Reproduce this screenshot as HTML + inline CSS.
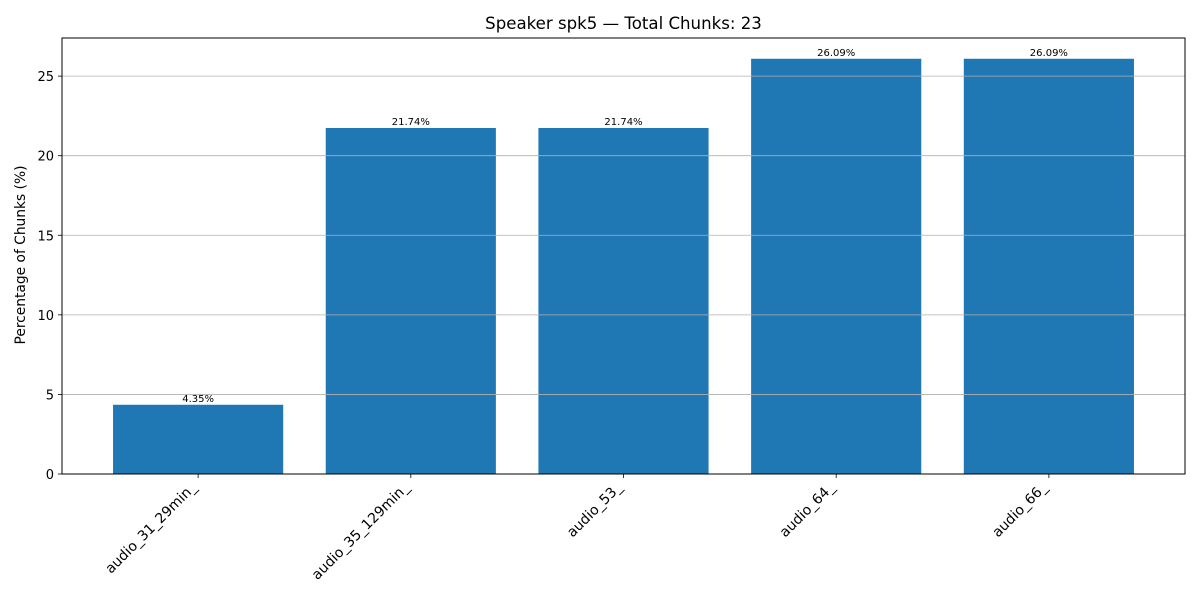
<!DOCTYPE html>
<html><head><meta charset="utf-8"><style>
body{margin:0;background:#fff;font-family:"Liberation Sans","DejaVu Sans",sans-serif;}
svg text{font-family:"DejaVu Sans","Liberation Sans",sans-serif;}
</style></head><body>
<svg id="chart" width="1200" height="600" xmlns="http://www.w3.org/2000/svg"></svg>
<script>
const categories = ["audio_31_29min_","audio_35_129min_","audio_53_","audio_64_","audio_66_"];
const values = [4.35, 21.74, 21.74, 26.09, 26.09];
const valueLabels = ["4.35%","21.74%","21.74%","26.09%","26.09%"];
const yTicks = [0,5,10,15,20,25];
const titleText = "Speaker spk5 — Total Chunks: 23";

const L=62,R=1185,T=38,B=474;
const yMax = Math.max(...values)*1.05;
const xMin=-0.64, xMax=categories.length-1+0.64;
const xs=i=>L+(i-xMin)/(xMax-xMin)*(R-L);
const ys=v=>B-v/yMax*(B-T);
const svg=document.getElementById('chart');
const NS="http://www.w3.org/2000/svg";
function mk(tag,attrs,parent){const e=document.createElementNS(NS,tag);for(const k in attrs)e.setAttribute(k,attrs[k]);(parent||svg).appendChild(e);return e;}

const bw=0.8*(xs(1)-xs(0));
categories.forEach((c,i)=>{
  const cx=xs(i);
  const r=mk('rect',{x:cx-bw/2,y:ys(values[i]),width:bw,height:B-ys(values[i]),fill:'#1f77b4'});
  
  
  const vl=mk('text',{x:cx,y:ys(values[i])-3,'font-size':10,'text-anchor':'middle',fill:'#000'});
  vl.textContent=valueLabels[i];
  
  
  mk('line',{x1:cx,x2:cx,y1:B,y2:B+4,stroke:'#000','stroke-width':0.8});
  const ax=cx-1, ay=B+14;
  const tl=mk('text',{x:ax,y:ay,'font-size':14,'text-anchor':'end',fill:'#000',transform:`rotate(-45 ${ax} ${ay})`});
  tl.textContent=c;
  
  
});
yTicks.forEach(t=>{
  const y=ys(t);
  const g=mk('line',{x1:L,x2:R,y1:y,y2:y,stroke:'#b0b0b0','stroke-width':0.8});
  
  
  mk('line',{x1:L-4,x2:L,y1:y,y2:y,stroke:'#000','stroke-width':0.8});
  const tl=mk('text',{x:L-8,y:y+5,'font-size':13,'text-anchor':'end',fill:'#000'});
  tl.textContent=t;
  
  
});
const frame=mk('rect',{x:L,y:T,width:R-L,height:B-T,fill:'none',stroke:'#000','stroke-width':1});


const title=mk('text',{x:(L+R)/2,y:T-9,'font-size':16.6,'text-anchor':'middle',fill:'#000'});
title.textContent=titleText;


const yl=mk('text',{x:25,y:(T+B)/2-1,'font-size':13.8,'text-anchor':'middle',fill:'#000',transform:`rotate(-90 25 ${(T+B)/2-1})`});
yl.textContent="Percentage of Chunks (%)";


</script>
</body></html>
